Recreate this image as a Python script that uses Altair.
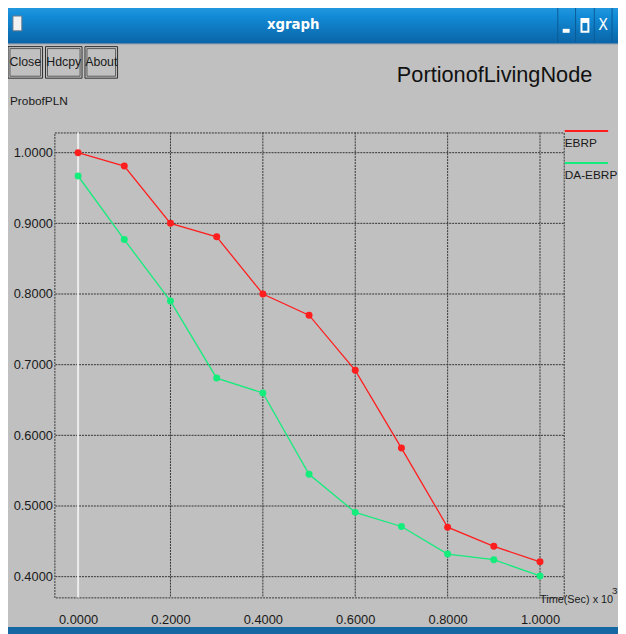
import altair as alt
import pandas as pd

# ---------------- data ----------------
times = [0.0, 0.1, 0.2, 0.3, 0.4, 0.5, 0.6, 0.7, 0.8, 0.9, 1.0]
ebrp = [1.000, 0.981, 0.900, 0.881, 0.800, 0.770, 0.692, 0.582, 0.470, 0.443, 0.421]
da_ebrp = [0.967, 0.877, 0.790, 0.681, 0.660, 0.545, 0.491, 0.471, 0.432, 0.424, 0.401]
series_names = ["EBRP", "DA-EBRP"]
series_colors = ["#ff1e1e", "#14ec7c"]
x_ticks = [0.0, 0.2, 0.4, 0.6, 0.8, 1.0]
x_grid = [0.2, 0.4, 0.6, 0.8, 1.0]
y_ticks = [0.4, 0.5, 0.6, 0.7, 0.8, 0.9, 1.0]
zero_line = [0.0]
title_text = "PortionofLivingNode"
y_label = "ProbofPLN"
x_label = "Time(Sec) x 10"
x_label_exp = "3"
buttons = ["Close", "Hdcpy", "About"]
window_title = "xgraph"

FONT = "Liberation Sans, Arial, Helvetica, sans-serif"
BAR_FONT = "DejaVu Sans Condensed, DejaVu Sans, sans-serif"
TXT = "#1a1a1a"
GRID = "#333333"

# plot area origin in reference-image pixels: (55, 130)
def px(x):
    return x - 55

def py(y):
    return y - 130

one = pd.DataFrame({"a": [0]})

def rect(x1, y1, x2, y2, **kw):
    return alt.Chart(one).mark_rect(**kw).encode(
        x=alt.value(px(x1)), x2=alt.value(px(x2)),
        y=alt.value(py(y1)), y2=alt.value(py(y2)))

def hline(x1, x2, y, **kw):
    return alt.Chart(one).mark_rule(**kw).encode(
        x=alt.value(px(x1)), x2=alt.value(px(x2)), y=alt.value(py(y)))

def vline(x, y1, y2, **kw):
    return alt.Chart(one).mark_rule(**kw).encode(
        x=alt.value(px(x)), y=alt.value(py(y1)), y2=alt.value(py(y2)))

def txt(s, x, y, size, align="left", **kw):
    params = dict(font=FONT, color=TXT)
    params.update(kw)
    return alt.Chart(one).mark_text(text=s, fontSize=size, align=align,
                                    baseline="middle", **params).encode(
        x=alt.value(px(x)), y=alt.value(py(y)))

layers = []

# ---------------- window frame / title bar ----------------
grad = alt.LinearGradient(
    gradient="linear",
    stops=[alt.GradientStop(color="#3aaceb", offset=0),
           alt.GradientStop(color="#128ad6", offset=0.45),
           alt.GradientStop(color="#0a64a6", offset=1)],
    x1=0, x2=0, y1=0, y2=1)
layers.append(rect(0, -10, 630, 40, color=grad))
layers.append(hline(0, 630, 40.5, color="#9aa4ac", strokeWidth=1))
layers.append(rect(0, 631, 630, 640, color="#1668a4"))
layers.append(rect(13, 12, 22, 27, color="#f2f2f2", stroke="#6a7a88", strokeWidth=1))
layers.append(txt(window_title, 297, 20, 15, align="center", color="white",
                  fontWeight="bold", font=BAR_FONT))
for sx in [565, 583, 602, 620]:
    layers.append(vline(sx, 1, 39, color="#0b5b95", strokeWidth=1))
layers.append(rect(570, 25, 577, 29, color="white"))
layers.append(rect(589, 15, 596, 28, fillOpacity=0, stroke="white", strokeWidth=2))
layers.append(rect(589, 15, 596, 19, color="white"))
layers.append(txt("X", 611, 21, 16, align="center", color="white", font=BAR_FONT))

# ---------------- buttons ----------------
btn_boxes = [(8, 43), (46, 83), (86, 119)]
for label, (bx1, bx2) in zip(buttons, btn_boxes):
    layers.append(rect(bx1, 43, bx2, 75, fillOpacity=0, stroke="#2e2e2e", strokeWidth=1))
    layers.append(rect(bx1 + 2, 45, bx2 - 2, 73, fillOpacity=0, stroke="#5a5a5a", strokeWidth=1))
    layers.append(txt(label, (bx1 + bx2) / 2, 59, 12.5, align="center"))

# ---------------- titles ----------------
layers.append(txt(title_text, 600, 72, 22, align="right", color="#111111"))
layers.append(txt(y_label, 10, 98, 12))
layers.append(txt(x_label, 547, 604, 11))
layers.append(txt(x_label_exp, 620, 595, 10))

# ---------------- plot ----------------
xs = alt.Scale(domain=[-0.0513, 1.0513], nice=False, zero=False)
ys = alt.Scale(domain=[0.3707, 1.0286], nice=False, zero=False)

x_axis = alt.Axis(values=x_ticks, format=".4f", grid=False, domain=False,
                  ticks=False, tickSize=0, labelPadding=16, title=None,
                  labelFont=FONT, labelFontSize=13, labelColor=TXT)
y_axis = alt.Axis(values=y_ticks, format=".4f", grid=False, domain=False,
                  ticks=False, tickSize=0, labelPadding=2, title=None,
                  labelFont=FONT, labelFontSize=13, labelColor=TXT)

ygrid = alt.Chart(pd.DataFrame({"v": y_ticks})).mark_rule(
    color=GRID, strokeDash=[2, 1], strokeWidth=1).encode(
    y=alt.Y("v:Q", scale=ys, axis=y_axis, title=None))
xgrid = alt.Chart(pd.DataFrame({"t": x_grid})).mark_rule(
    color=GRID, strokeDash=[2, 1], strokeWidth=1).encode(
    x=alt.X("t:Q", scale=xs, axis=x_axis, title=None))
zline = alt.Chart(pd.DataFrame({"t": zero_line})).mark_rule(
    color="#ececec", strokeWidth=2).encode(
    x=alt.X("t:Q", scale=xs, axis=x_axis, title=None))
layers += [ygrid, xgrid, zline]

df = pd.DataFrame({
    "t": times + times,
    "v": ebrp + da_ebrp,
    "s": [series_names[0]] * len(times) + [series_names[1]] * len(times),
})

color = alt.Color("s:N", scale=alt.Scale(domain=series_names, range=series_colors), legend=None)
base = alt.Chart(df).encode(
    x=alt.X("t:Q", scale=xs, axis=x_axis, title=None),
    y=alt.Y("v:Q", scale=ys, axis=y_axis, title=None),
    color=color,
    detail="s:N",
)
lines = base.mark_line(strokeWidth=1.3)
points = base.mark_point(filled=True, size=50, opacity=1, shape="circle")
layers += [lines, points]

# ---------------- legend ----------------
leg_y = [(128.5, 141), (161, 173)]
for name, col, (ly, ty) in zip(series_names, series_colors, leg_y):
    layers.append(hline(572, 616, ly, color=col, strokeWidth=2))
    layers.append(txt(name, 572, ty, 12))

chart = alt.layer(*layers).properties(
    width=516, height=471,
    padding={"left": 47, "top": 122, "right": 55, "bottom": 33},
    autosize=alt.AutoSizeParams(type="none"),
).configure(background="#c0c0c0").configure_view(
    stroke=GRID, strokeDash=[2, 1], strokeWidth=1)

chart.save("out.html", embed_options={"renderer": "svg", "actions": False})
